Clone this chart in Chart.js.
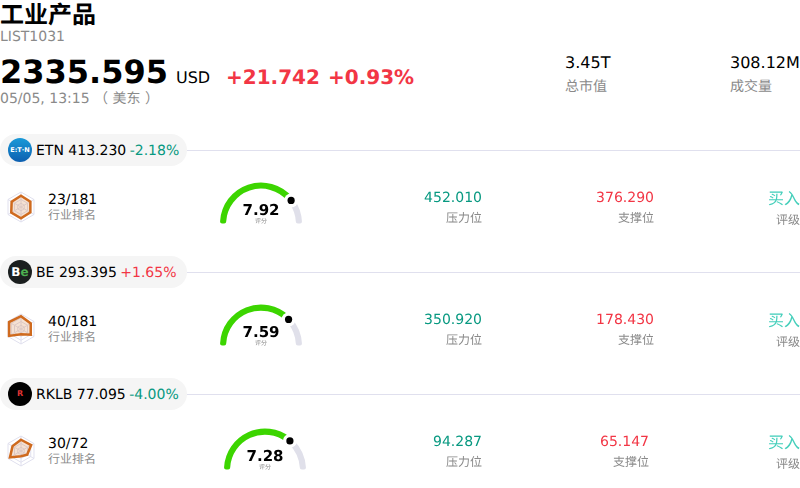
<!DOCTYPE html>
<html><head><meta charset="utf-8">
<script src="https://cdn.jsdelivr.net/npm/chart.js@4"></script>
<style>
html,body{margin:0;padding:0;background:#fff;overflow:hidden}
body{width:800px;height:488px;position:relative;font-family:"DejaVu Sans","Noto Sans CJK SC",sans-serif;color:#000;text-rendering:geometricPrecision}
.t{position:absolute;white-space:nowrap;line-height:1}
.r{text-align:right}
canvas{position:absolute}
.pill{position:absolute;left:0;height:32px;background:#f5f5f5;border-radius:16px}
.line{position:absolute;height:1px;right:0;background:#e0e0ee}
.logo{position:absolute;width:24px;height:24px;border-radius:50%;overflow:hidden;color:#fff;text-align:center;font-weight:bold}
</style></head><body>
<script>
const title = "工业产品";
const code = "LIST1031";
const price = "2335.595";
const currency = "USD";
const change = "+21.742";
const changePct = "+0.93%";
const dateText = "05/05, 13:15 （ 美东 ）";
const marketCap = "3.45T";
const volume = "308.12M";
const tickers = ["ETN", "BE", "RKLB"];
const prices = ["413.230", "293.395", "77.095"];
const pcts = ["-2.18%", "+1.65%", "-4.00%"];
const ranks = ["23/181", "40/181", "30/72"];
const scores = [7.92, 7.59, 7.28];
const resistances = ["452.010", "350.920", "94.287"];
const supports = ["376.290", "178.430", "65.147"];
const ratings = ["买入", "买入", "买入"];
const radarValues = [
  [75, 72, 72, 75, 75, 72],
  [85, 75, 75, 35, 92, 92],
  [75, 78, 48, 35, 85, 65]
];
const scoreMax = 10;

const GREEN = "#089981", RED = "#f23645", GREY = "#8a8a8a";
function text(s, x, y, size, color, opts) {
  opts = opts || {};
  const e = document.createElement("div");
  e.className = "t" + (opts.right ? " r" : "");
  e.textContent = s;
  e.style.fontSize = size + "px";
  e.style.color = color;
  e.style.top = (y - size / 2) + "px";
  if (opts.right) e.style.right = (800 - x) + "px"; else e.style.left = x + "px";
  if (opts.bold) e.style.fontWeight = "bold";
  if (opts.center) { e.style.left = x + "px"; e.style.transform = "translateX(-50%)"; }
  document.body.appendChild(e);
  return e;
}
function box(cls, css) {
  const e = document.createElement("div");
  e.className = cls;
  Object.assign(e.style, css);
  document.body.appendChild(e);
  return e;
}
function canvas(x, y, w, h) {
  const c = document.createElement("canvas");
  c.width = w; c.height = h;
  c.style.left = x + "px"; c.style.top = y + "px";
  c.style.width = w + "px"; c.style.height = h + "px";
  document.body.appendChild(c);
  return c;
}

text(title, 0, 15, 24, "#000", {bold: true});
text(code, 0, 37, 14, GREY);
text(price, 0, 72, 32, "#000", {bold: true});
text(currency, 176, 78, 16, "#000");
text(change, 226, 77, 20, RED, {bold: true});
text(changePct, 328, 77, 20, RED, {bold: true});
text(dateText, 0, 99, 14, GREY);
text(marketCap, 565, 63, 16, "#000");
text("总市值", 565, 87, 14, GREY);
text(volume, 730, 63, 16, "#000");
text("成交量", 730, 87, 14, GREY);

const dotPlugin = {
  id: "dot",
  afterDatasetsDraw(chart) {
    const a = chart.getDatasetMeta(0).data[0];
    const ang = a.endAngle, r = (a.innerRadius + a.outerRadius) / 2;
    const x = a.x + Math.cos(ang) * r, y = a.y + Math.sin(ang) * r;
    const ctx = chart.ctx;
    ctx.save();
    ctx.beginPath(); ctx.arc(x, y, 7, 0, Math.PI * 2); ctx.fillStyle = "#fff"; ctx.fill();
    ctx.beginPath(); ctx.arc(x, y, 3.6, 0, Math.PI * 2); ctx.fillStyle = "#000"; ctx.fill();
    ctx.restore();
  }
};

const rowTops = [134, 256, 378];
const gaugeX = [261, 261, 265];
const resX = [482, 482, 482];
const supX = [654, 654, 649];
const logos = [
  {bg: "linear-gradient(#1a9ad8,#0d5fb0)", parts: [["E:T·N", "#fff"]], size: 6.5},
  {bg: "#1b1f1f", parts: [["B", "#fff"], ["e", "#4caf50"]], size: 12},
  {bg: "#000", parts: [["R", "#d33"]], size: 8}
];

tickers.forEach((tk, i) => {
  const top = rowTops[i];
  const mid = top + 16;
  box("line", {left: "180px", top: mid + "px"});
  box("pill", {width: "187px", top: top + "px"});
  const lg = logos[i];
  const l = box("logo", {left: "8px", top: (top + 4) + "px", background: lg.bg, fontSize: lg.size + "px", lineHeight: "24px"});
  lg.parts.forEach(p => {
    const s = document.createElement("span");
    s.textContent = p[0]; s.style.color = p[1];
    l.appendChild(s);
  });
  const up = pcts[i][0] === "+";
  const head = text("", 36, mid + 1, 14, "#000");
  head.textContent = tk + " " + prices[i] + " ";
  const p = document.createElement("span");
  p.textContent = pcts[i];
  p.style.color = up ? RED : GREEN;
  p.style.marginLeft = "-1px";
  head.appendChild(p);

  new Chart(canvas(4, top + 56, 34, 34), {
    type: "radar",
    data: {
      labels: ["a", "b", "c", "d", "e", "f"],
      datasets: [{
        data: radarValues[i],
        borderColor: "#cf6a1e",
        backgroundColor: "rgba(207,106,30,0.2)",
        borderWidth: 2.5,
        pointRadius: 0
      }]
    },
    options: {
      responsive: false, animation: false, devicePixelRatio: 1,
      layout: {padding: 2},
      plugins: {legend: {display: false}, tooltip: {enabled: false}},
      scales: {r: {
        min: 0, max: 100,
        ticks: {display: false, stepSize: 25},
        pointLabels: {display: false},
        grid: {color: "#e0e0ee", lineWidth: 1},
        angleLines: {color: "#e0e0ee", lineWidth: 1}
      }}
    }
  });

  text(ranks[i], 48, top + 66, 14, "#000");
  text("行业排名", 48, top + 81, 12, GREY);

  const gx = gaugeX[i];
  const dy = i === 2 ? 2 : 0;
  new Chart(canvas(gx - 42, top + 47 + dy, 84, 44), {
    type: "doughnut",
    data: {
      labels: ["score", "rest"],
      datasets: [{
        data: [scores[i], scoreMax - scores[i]],
        backgroundColor: ["#3cd500", "#e0e0ea"],
        borderWidth: 0,
        borderRadius: 2
      }]
    },
    options: {
      responsive: false, animation: false, devicePixelRatio: 1,
      rotation: -90, circumference: 180,
      radius: 41, cutout: "85%",
      plugins: {legend: {display: false}, tooltip: {enabled: false}}
    },
    plugins: [dotPlugin]
  });
  text(scores[i].toFixed(2), gx, top + 76 + dy, 15, "#000", {bold: true, center: true});
  text("评分", gx, top + 88 + dy, 6, GREY, {center: true});

  text(resistances[i], resX[i], top + 64, 14, GREEN, {right: true});
  text("压力位", resX[i], top + 84, 12, GREY, {right: true});
  text(supports[i], supX[i], top + 64, 14, RED, {right: true});
  text("支撑位", supX[i], top + 84, 12, GREY, {right: true});
  text(ratings[i], 800, top + 65, 16, "#45cfbb", {right: true});
  text("评级", 800, top + 86, 12, GREY, {right: true});
});
</script>
</body></html>
